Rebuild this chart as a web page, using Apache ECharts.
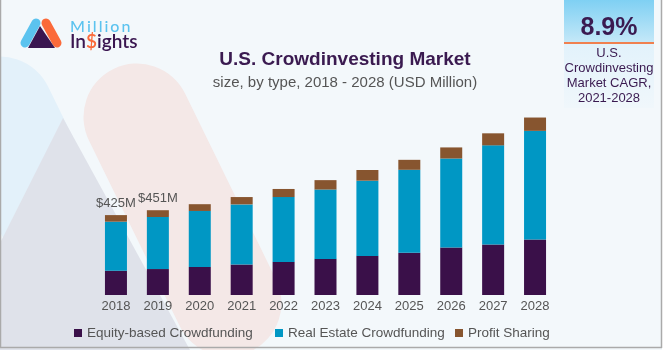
<!DOCTYPE html>
<html>
<head>
<meta charset="utf-8">
<script src="https://cdn.jsdelivr.net/npm/echarts@6/dist/echarts.min.js"></script>
<style>
  html, body { margin: 0; padding: 0; background: #fff; }
  #chart { width: 670px; height: 350px; }
</style>
</head>
<body>
<div id="chart"></div>
<script>
var years = ['2018', '2019', '2020', '2021', '2022', '2023', '2024', '2025', '2026', '2027', '2028'];
var equity = [129, 138, 149, 162, 176, 192, 208, 225, 252, 268, 295];
var realEstate = [261, 277, 298, 320, 345, 369, 400, 441, 474, 528, 578];
var profitSharing = [35, 36, 36, 39, 43, 50, 57, 53, 59, 64, 71];
var totalLabels = ['$425M', '$451M'];
var seriesNames = ['Equity-based Crowdfunding', 'Real Estate Crowdfunding', 'Profit Sharing'];

var font = "'Liberation Sans', Arial, sans-serif";
var chart = echarts.init(document.getElementById('chart'));

// one legend per item, the gaps in the original are not even
var legendLeft = [69, 270, 450];
var legends = seriesNames.map(function (name, i) {
    return {
        left: legendLeft[i],
        top: 321,
        icon: 'rect',
        itemWidth: 8,
        itemHeight: 8,
        textStyle: { color: '#555', fontSize: 13.5, fontFamily: font },
        data: [name]
    };
});

var option = {
    backgroundColor: '#f3f8fb',
    animation: false,
    title: {
        text: 'U.S. Crowdinvesting Market',
        subtext: 'size, by type, 2018 - 2028 (USD Million)',
        left: 340,
        textAlign: 'center',
        top: 45,
        itemGap: 6,
        textStyle: { color: '#3a1a50', fontSize: 19, fontWeight: 'bold', fontFamily: font },
        subtextStyle: { color: '#555', fontSize: 15, fontFamily: font }
    },
    legend: legends,
    grid: { left: 95, right: 114, top: 107, bottom: 55 },
    xAxis: {
        type: 'category',
        data: years,
        axisLine: { show: false },
        axisTick: { show: false },
        axisLabel: { color: '#555', fontSize: 13, margin: 5, fontFamily: font }
    },
    yAxis: {
        type: 'value',
        min: 0,
        max: 1000,
        show: false
    },
    graphic: [
        // faded background shapes (large copy of the logo)
        { type: 'rect', z: -10, x: 0, y: 110, rotation: 0.455,
          shape: { x: -53.5, y: -53.5, width: 107, height: 500, r: 53.5 },
          style: { fill: '#e3f1fa' } },
        { type: 'rect', z: -10, x: 137, y: 117, rotation: 0.455,
          shape: { x: -53.5, y: -53.5, width: 107, height: 314, r: 53.5 },
          style: { fill: '#f4e8e7' } },
        { type: 'polygon', z: -9,
          shape: { points: [[63, 118], [-54, 350], [190, 350]] },
          style: { fill: '#dfe2ea' } },
        // frame
        { type: 'rect', z: 50, shape: { x: 662, y: 0, width: 8, height: 350 }, style: { fill: '#fff' } },
        { type: 'line', z: 50, shape: { x1: 0.5, y1: 0, x2: 0.5, y2: 348 }, style: { stroke: '#aaa', lineWidth: 1.5 } },
        { type: 'line', z: 50, shape: { x1: 0, y1: 347.5, x2: 662, y2: 347.5 }, style: { stroke: '#aaa', lineWidth: 1.5 } },
        { type: 'line', z: 50, shape: { x1: 661.5, y1: 0, x2: 661.5, y2: 348 }, style: { stroke: '#aaa', lineWidth: 1.5 } },
        // logo
        { type: 'line', shape: { x1: 25, y1: 43, x2: 36, y2: 23 }, style: { stroke: '#5bc3ef', lineWidth: 9, lineCap: 'round' } },
        { type: 'line', shape: { x1: 46, y1: 23, x2: 57, y2: 43 }, style: { stroke: '#fb6a3a', lineWidth: 9, lineCap: 'round' } },
        { type: 'polygon', shape: { points: [[40, 26], [28, 48], [55, 48]] }, style: { fill: '#3a1650' } },
        { type: 'text', x: 70, y: 19, style: { text: 'M\u2009i\u2009l\u2009l\u2009i\u2009o\u2009n', fill: '#5bc3ef',
            font: '500 16px Lato, "Open Sans", sans-serif' } },
        { type: 'text', x: 70, y: 32, style: { text: 'In{o|$}ights', fill: '#3a1650', font: '600 19px Lato, "Open Sans", sans-serif',
            rich: { o: { fill: '#fb6a3a', font: '600 19px Lato, "Open Sans", sans-serif' } } } },
        // CAGR box
        { type: 'rect', shape: { x: 564, y: 0, width: 90, height: 42 },
          style: { fill: new echarts.graphic.LinearGradient(0, 0, 0, 1, [
              { offset: 0, color: '#7fd0f3' }, { offset: 1, color: '#c4e8f8' }]) } },
        { type: 'rect', shape: { x: 564, y: 42, width: 90, height: 2 }, style: { fill: '#f0804f' } },
        { type: 'rect', shape: { x: 564, y: 44, width: 90, height: 64 },
          style: { fill: new echarts.graphic.LinearGradient(0, 0, 0, 1, [
              { offset: 0, color: '#e2f2fb' }, { offset: 1, color: '#f0f7fb' }]) } },
        { type: 'text', x: 609, y: 28, style: { text: '8.9%', fill: '#3a1a50', font: 'bold 25px "Liberation Sans", sans-serif',
            align: 'center', verticalAlign: 'middle' } },
        { type: 'text', x: 609, y: 76, style: { text: 'U.S.\nCrowdinvesting\nMarket CAGR,\n2021-2028', fill: '#3a1a50',
            font: '13px ' + font, align: 'center', verticalAlign: 'middle', lineHeight: 15 } }
    ],
    series: [
        {
            name: seriesNames[0],
            type: 'bar',
            stack: 'total',
            barWidth: 22,
            itemStyle: { color: '#3a1049' },
            data: equity
        },
        {
            name: seriesNames[1],
            type: 'bar',
            stack: 'total',
            itemStyle: { color: '#0097c4' },
            data: realEstate
        },
        {
            name: seriesNames[2],
            type: 'bar',
            stack: 'total',
            itemStyle: { color: '#87552f' },
            label: {
                show: true,
                position: 'top',
                distance: 5,
                color: '#555',
                fontSize: 13,
                fontFamily: font,
                formatter: function (p) {
                    return totalLabels[p.dataIndex] || '';
                }
            },
            data: profitSharing
        }
    ]
};
chart.setOption(option);
</script>
</body>
</html>
